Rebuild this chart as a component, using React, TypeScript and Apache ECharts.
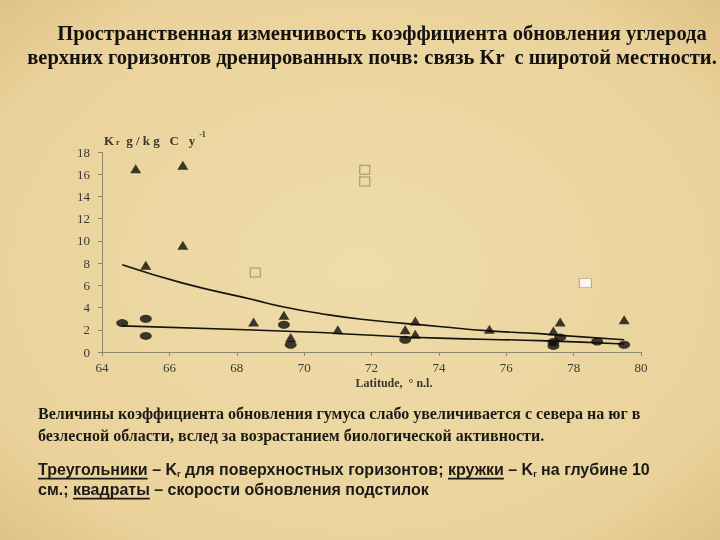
import React, { useEffect, useRef } from "react";
import * as echarts from "echarts";

// ---- data ----
const xTicks = [64, 66, 68, 70, 72, 74, 76, 78, 80];
const yTicks = [0, 2, 4, 6, 8, 10, 12, 14, 16, 18];

// Triangles: Kr for surface horizons
const triLat = [65.0, 66.4, 65.3, 66.4, 68.5, 69.4, 69.6, 71.0, 73.0, 73.3, 73.3, 75.5, 77.4, 77.6, 79.5];
const triKr = [16.5, 16.8, 7.8, 9.6, 2.7, 3.3, 1.3, 2.0, 2.0, 2.8, 1.6, 2.05, 1.9, 2.7, 2.9];

// Circles: Kr at 10 cm depth
const circLat = [64.6, 65.3, 65.3, 69.4, 69.6, 73.0, 77.4, 77.4, 77.6, 78.7, 79.5];
const circKr = [2.6, 3.0, 1.45, 2.45, 0.65, 1.1, 0.9, 0.55, 1.3, 0.95, 0.65];

// Squares: litter turnover rates
const sqLat = [68.55, 71.8, 71.8];
const sqKr = [7.15, 16.4, 15.35];
const sqWhiteLat = [78.35];
const sqWhiteKr = [6.2];

// Trend lines
const trendUpperLat = [64.6, 66.4, 68.5, 69.4, 70.5, 71.7, 74.0, 75.5, 77.0, 77.6, 79.5];
const trendUpperKr = [7.85, 6.2, 4.7, 4.05, 3.45, 2.95, 2.3, 1.9, 1.65, 1.5, 1.1];
const trendLowerLat = [64.6, 68.5, 70.5, 71.7, 74.0, 77.0, 79.5];
const trendLowerKr = [2.35, 1.98, 1.75, 1.55, 1.25, 1.02, 0.72];

const titleLines = [
  "Пространственная изменчивость коэффициента обновления углерода",
  "верхних горизонтов дренированных почв: связь Kr  с широтой местности.",
];
const para1 = [
  "Величины коэффициента обновления гумуса слабо увеличивается с севера на юг в",
  "безлесной области, вслед за возрастанием биологической активности.",
];

const SERIF = "'Liberation Serif', 'Times New Roman', serif";
const SANS = "'Liberation Sans', Arial, sans-serif";

type Seg = { text: string; size: number; family: string; weight?: string; underline?: boolean; dy?: number };

let mctx: CanvasRenderingContext2D | null = null;
function measure(s: Seg): number {
  if (!mctx) mctx = document.createElement("canvas").getContext("2d");
  if (!mctx) return s.text.length * s.size * 0.5;
  mctx.font = `${s.weight || "normal"} ${s.size}px ${s.family}`;
  return mctx.measureText(s.text).width;
}

function layoutLine(segs: Seg[], x0: number, y: number, color: string): any[] {
  let x = x0;
  const els: any[] = [];
  for (const s of segs) {
    const w = measure(s);
    els.push({
      type: "text",
      silent: true,
      style: {
        text: s.text,
        x,
        y: y + (s.dy || 0),
        fontSize: s.size,
        fontFamily: s.family,
        fontWeight: s.weight || "normal",
        fill: color,
        textAlign: "left",
        align: "left",
        textVerticalAlign: "middle",
        verticalAlign: "middle",
      },
    });
    if (s.underline) {
      const uy = y + s.size * 0.6;
      els.push({
        type: "line",
        silent: true,
        shape: { x1: x, y1: uy, x2: x + w, y2: uy },
        style: { stroke: color, lineWidth: 1.8 },
      });
    }
    x += w;
  }
  return els;
}

export default function App() {
  const ref = useRef<HTMLDivElement>(null);

  useEffect(() => {
    if (!ref.current) return;
    const chart = echarts.init(ref.current, null, { renderer: "svg", width: 720, height: 540 });

    const zip = (a: number[], b: number[]) => a.map((v, i) => [v, b[i]]);
    const axisGray = "#8d8670";
    const labelColor = "#3c3a33";

    const graphics: any[] = [];
    // Title
    graphics.push({
      type: "text", silent: true,
      style: { text: titleLines[0], x: 382, y: 33, fontSize: 20.5, fontWeight: "bold", fontFamily: SERIF, fill: "#141210", textAlign: "center", align: "center", textVerticalAlign: "middle", verticalAlign: "middle" },
    });
    graphics.push({
      type: "text", silent: true,
      style: { text: titleLines[1], x: 372, y: 57, fontSize: 20.5, fontWeight: "bold", fontFamily: SERIF, fill: "#141210", textAlign: "center", align: "center", textVerticalAlign: "middle", verticalAlign: "middle" },
    });
    // Paragraph 1
    para1.forEach((t, i) => {
      graphics.push(...layoutLine([{ text: t, size: 16, family: SERIF, weight: "bold" }], 38, 413 + i * 22, "#1c1a16"));
    });
    // Paragraph 3 (legend explanation)
    const S = 16;
    const B = "bold";
    graphics.push(
      ...layoutLine(
        [
          { text: "Треугольники", size: S, family: SANS, weight: B, underline: true },
          { text: " – K", size: S, family: SANS, weight: B },
          { text: "r", size: 9, family: SANS, weight: B, dy: 5 },
          { text: " для поверхностных горизонтов; ", size: S, family: SANS, weight: B },
          { text: "кружки", size: S, family: SANS, weight: B, underline: true },
          { text: " – K", size: S, family: SANS, weight: B },
          { text: "r", size: 9, family: SANS, weight: B, dy: 5 },
          { text: " на глубине 10", size: S, family: SANS, weight: B },
        ],
        38, 469, "#1c1a16"
      )
    );
    graphics.push(
      ...layoutLine(
        [
          { text: "см.; ", size: S, family: SANS, weight: B },
          { text: "квадраты", size: S, family: SANS, weight: B, underline: true },
          { text: " – скорости обновления подстилок", size: S, family: SANS, weight: B },
        ],
        38, 489, "#1c1a16"
      )
    );
    // Y axis name: Kr g/kg C y-1
    graphics.push(
      ...layoutLine(
        [
          { text: "K", size: 13, family: SERIF, weight: "bold" },
          { text: " r", size: 8, family: SERIF, weight: "bold", dy: 2 },
          { text: "  g / k g   C   y", size: 13, family: SERIF, weight: "bold" },
          { text: "  -1", size: 8, family: SERIF, weight: "bold", dy: -6 },
        ],
        104, 140, "#3a372e"
      )
    );
    // X axis name
    graphics.push({
      type: "text", silent: true,
      style: { text: "Latitude,  ° n.l.", x: 394, y: 383, fontSize: 12, fontWeight: "bold", fontFamily: SERIF, fill: "#3a372e", textAlign: "center", align: "center", textVerticalAlign: "middle", verticalAlign: "middle" },
    });

    const option: any = {
      animation: false,
      backgroundColor: {
        type: "radial", x: 0.5, y: 0.5, r: 0.8,
        colorStops: [
          { offset: 0, color: "#efdcaa" },
          { offset: 0.7, color: "#ead29a" },
          { offset: 1, color: "#d9b878" },
        ],
      },
      grid: { left: 102, right: 79, top: 152, bottom: 188, containLabel: false, outerBoundsMode: "none" },
      xAxis: {
        type: "value", min: 64, max: 80, interval: 2,
        axisLine: { show: true, onZero: false, lineStyle: { color: axisGray, width: 1 } },
        axisTick: { show: true, length: 4, lineStyle: { color: axisGray } },
        splitLine: { show: false },
        axisLabel: {
          color: labelColor, fontFamily: SERIF, fontSize: 13, margin: 9,
          formatter: (v: number) => (xTicks.includes(v) ? String(v) : ""),
        },
      },
      yAxis: {
        type: "value", min: 0, max: 18, interval: 2,
        axisLine: { show: true, onZero: false, lineStyle: { color: axisGray, width: 1 } },
        axisTick: { show: true, length: 4, lineStyle: { color: axisGray } },
        splitLine: { show: false },
        axisLabel: {
          color: labelColor, fontFamily: SERIF, fontSize: 13, margin: 12,
          formatter: (v: number) => (yTicks.includes(v) ? String(v) : ""),
        },
      },
      series: [
        {
          type: "line", data: zip(trendUpperLat, trendUpperKr), smooth: true, symbol: "none",
          lineStyle: { color: "#15130f", width: 1.6 }, silent: true, z: 2,
        },
        {
          type: "line", data: zip(trendLowerLat, trendLowerKr), smooth: true, symbol: "none",
          lineStyle: { color: "#15130f", width: 1.6 }, silent: true, z: 2,
        },
        {
          type: "scatter", data: zip(triLat, triKr), symbol: "triangle", symbolSize: [11, 9],
          itemStyle: { color: "#0d0c0a" }, silent: true, z: 3,
        },
        {
          type: "scatter", data: zip(circLat, circKr), symbol: "circle", symbolSize: [12, 8],
          itemStyle: { color: "#0d0c0a" }, silent: true, z: 3,
        },
        {
          type: "scatter", data: zip(sqLat, sqKr), symbol: "rect", symbolSize: [10, 9],
          itemStyle: { color: "rgba(0,0,0,0)", borderColor: "#8a806a", borderWidth: 1 }, silent: true, z: 3,
        },
        {
          type: "scatter", data: zip(sqWhiteLat, sqWhiteKr), symbol: "rect", symbolSize: [12, 9],
          itemStyle: { color: "#ffffff", borderColor: "#a9a08a", borderWidth: 1 }, silent: true, z: 3,
        },
      ],
      graphic: { elements: graphics },
    };

    chart.setOption(option);
    return () => chart.dispose();
  }, []);

  return <div ref={ref} style={{ position: "fixed", left: 0, top: 0, width: 720, height: 540 }} />;
}
